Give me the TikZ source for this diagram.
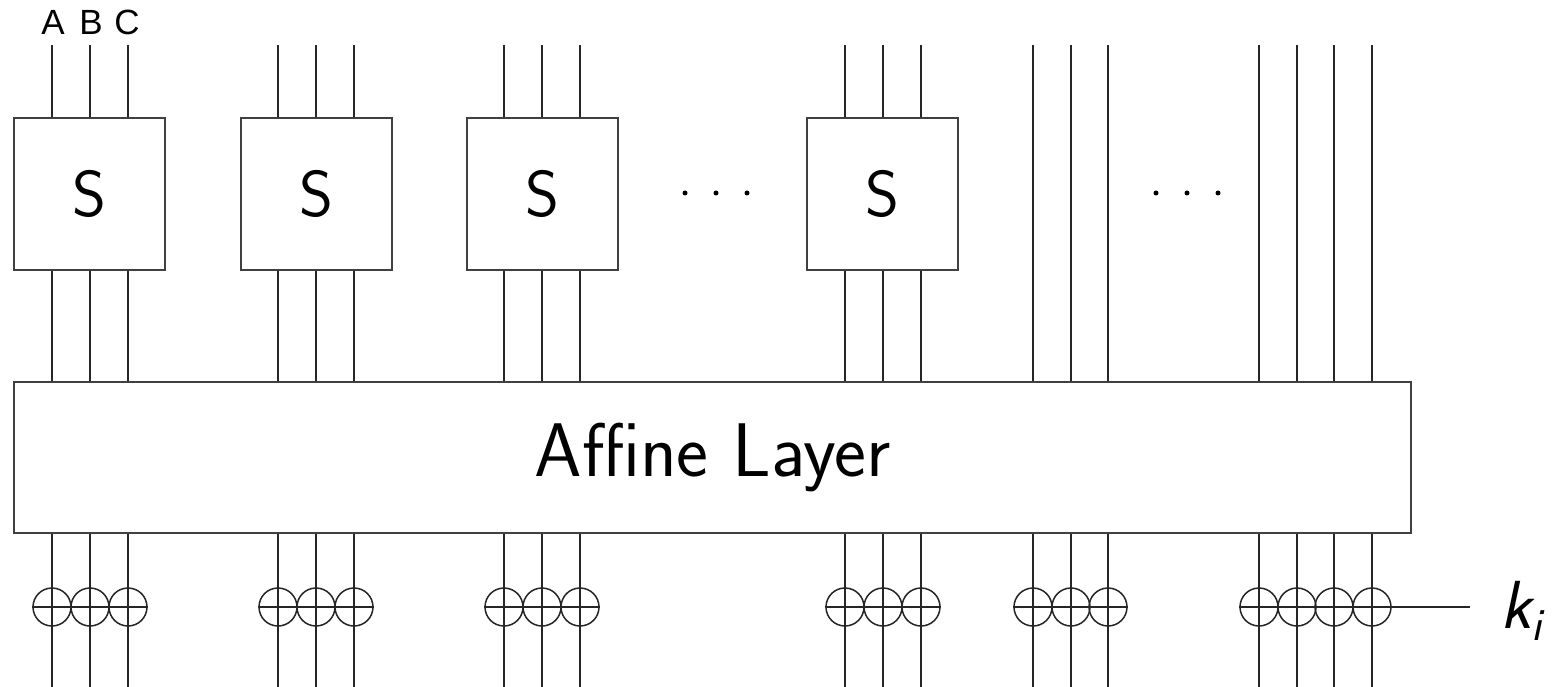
\documentclass[tikz,border=0pt]{standalone}
\usepackage{fontspec}
\newfontfamily\arialfont{Liberation Sans}
\begin{document}
\begin{tikzpicture}[x=1pt,y=-1pt,
  wire/.style={line width=1.8pt, draw=black!85},
  sbox/.style={draw=black!75, line width=2pt, inner sep=0pt, minimum width=151pt, minimum height=152pt,
    font=\sffamily\fontsize{65}{65}\selectfont},
  affbox/.style={draw=black!75, line width=2pt, inner sep=0pt, minimum width=1397pt, minimum height=151pt,
    font=\sffamily\fontsize{76}{76}\selectfont},
  xorc/.style={circle, draw=black!85, line width=1.5pt, minimum size=38pt, inner sep=0pt},
  lbl/.style={font=\arialfont\fontsize{35}{35}\selectfont, inner sep=0pt},
  dotc/.style={circle, fill=black, inner sep=0pt, minimum size=5pt}]
\useasboundingbox (0,0) rectangle (1557,687);

% S boxes
\node[sbox] (s1) at (89.5,194) {S};
\node[sbox] (s2) at (316.5,194) {S};
\node[sbox] (s3) at (542.5,194) {S};
\node[sbox] (s4) at (882.5,194) {S};

% affine layer
\node[affbox] (aff) at (712.5,457.5) {Affine Layer};

% dots
\foreach \x in {685,716,747,1156,1187,1218}{
  \node[dotc] (dot\x) at (\x,193) {};
}

% labels
\node[lbl] (la) at (53,22) {A};
\node[lbl] (lb) at (91,22) {B};
\node[lbl] (lc) at (127,22) {C};

% wires through S boxes
\foreach \x/\b in {52/s1,90/s1,128/s1,278/s2,316/s2,354/s2,504/s3,542/s3,580/s3,845/s4,883/s4,921/s4}{
  \coordinate (top\x) at (\x,45);
  \draw[wire] (top\x) -- (top\x |- \b.north);
  \draw[wire] (top\x |- \b.south) -- (top\x |- aff.north);
}
% wires without S boxes
\foreach \x in {1033,1071,1108,1259,1297,1334,1372}{
  \coordinate (top\x) at (\x,45);
  \draw[wire] (top\x) -- (top\x |- aff.north);
}
% lower wires and xor
\foreach \x in {52,90,128,278,316,354,504,542,580,845,883,921,1033,1071,1108,1259,1297,1334,1372}{
  \node[xorc] (x\x) at (\x,607) {};
  \coordinate (bot\x) at (\x,687);
  \draw[wire] (top\x |- aff.south) -- (bot\x);
  \draw[line width=1.5pt, draw=black!85] (x\x.west) -- (x\x.east);
}
% key line
\coordinate (kend) at (1470,607);
\draw[wire] (x1372.east) -- (kend);
\node[inner sep=0pt, anchor=base west] (ki) at (1500,628)
  {\sffamily\itshape\fontsize{68}{68}\selectfont k\raisebox{-12pt}{\fontsize{46}{46}\selectfont i}};
\end{tikzpicture}
\end{document}
